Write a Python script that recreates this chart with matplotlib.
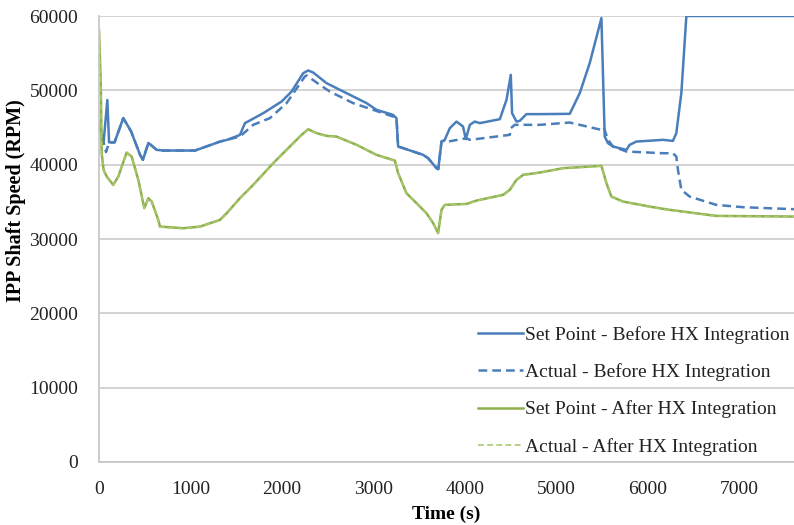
import matplotlib
matplotlib.use("Agg")
import matplotlib.pyplot as plt

# Intermediate-pressure pump shaft speed (RPM) against time (s)
t_before_sp = [0, 50, 91, 110, 170, 265, 350, 450, 480, 540, 630, 700, 1050, 1322, 1400, 1541,
               1596, 1796, 1997, 2106, 2233, 2287, 2342, 2488, 2707, 2926, 3034, 3216, 3253, 3271,
               3327, 3545, 3599, 3691, 3710, 3745, 3781, 3836, 3909, 3981, 4011, 4055, 4109, 4164,
               4383, 4456, 4503, 4517, 4565, 4601, 4674, 4820, 5148, 5257, 5366, 5494, 5530, 5566,
               5621, 5767, 5803, 5876, 6167, 6276, 6313, 6368, 6423, 7600]
v_before_sp = [45600, 43000, 48700, 43000, 43000, 46260, 44500, 41300, 40650, 42930, 42000, 41900,
               41900, 43100, 43340, 44000, 45590, 46930, 48500, 49840, 52310, 52670, 52400, 50970,
               49620, 48280, 47380, 46700, 46250, 42440, 42220, 41320, 40870, 39530, 39400, 43110,
               43340, 44910, 45800, 45130, 43430, 45360, 45800, 45590, 46120, 48720, 52090, 46930,
               45800, 45900, 46800, 46800, 46840, 49620, 53660, 59720, 43780, 42890, 42440, 41990,
               42670, 43110, 43340, 43200, 44240, 49620, 60000, 60000]

t_before_act = [0, 50, 77, 110, 170, 265, 350, 450, 480, 540, 630, 700, 1050, 1322, 1400, 1541,
                1686, 1869, 2051, 2251, 2270, 2415, 2524, 2779, 2998, 3216, 3253, 3271, 3327, 3545,
                3599, 3691, 3710, 3745, 3798, 3817, 4018, 4055, 4492, 4503, 4546, 4820, 5148, 5257,
                5494, 5520, 5566, 5621, 5767, 6167, 6276, 6313, 6331, 6368, 6459, 6750, 7042, 7600]
v_before_act = [45600, 43000, 41700, 43000, 43000, 46260, 44500, 41300, 40650, 42930, 42000, 41900,
                41900, 43100, 43340, 43780, 45360, 46260, 48280, 51860, 52000, 50740, 49840, 48280,
                47380, 46470, 46250, 42440, 42220, 41320, 40870, 39530, 39400, 43110, 43340, 43110,
                43560, 43340, 44010, 44910, 45360, 45360, 45670, 45360, 44680, 45000, 43340, 42440,
                41770, 41540, 41540, 41090, 39300, 36610, 35710, 34590, 34280, 34010]

t_after_sp = [0, 20, 29, 50, 84, 156, 211, 302, 357, 430, 495, 539, 576, 648, 667, 921, 1104, 1322,
              1396, 1541, 1686, 1905, 2087, 2215, 2287, 2379, 2488, 2597, 2816, 3034, 3235, 3253,
              3271, 3362, 3472, 3581, 3654, 3708, 3745, 3781, 4018, 4128, 4419, 4492, 4565, 4638,
              4820, 5075, 5494, 5549, 5603, 5730, 6022, 6240, 6386, 6750, 7600]
v_after_sp = [58140, 50500, 41550, 39300, 38400, 37280, 38400, 41630, 41090, 37950, 34150, 35490,
              35040, 32570, 31670, 31450, 31670, 32570, 33470, 35490, 37280, 40200, 42440, 44010,
              44770, 44240, 43880, 43780, 42670, 41320, 40550, 39740, 38850, 36160, 34820, 33470,
              32130, 30780, 33920, 34590, 34720, 35170, 35940, 36610, 37950, 38630, 38940, 39530,
              39840, 37510, 35710, 35040, 34360, 33920, 33690, 33110, 33020]

t_after_act = [0, 20, 29, 50, 84, 156, 211, 302, 357, 430, 495, 539, 576, 648, 667, 921, 1104, 1322,
               1396, 1541, 1686, 1905, 2087, 2215, 2287, 2379, 2488, 2597, 2816, 3034, 3235, 3253,
               3271, 3362, 3472, 3581, 3654, 3708, 3745, 3781, 4018, 4128, 4419, 4492, 4565, 4638,
               4820, 5075, 5494, 5549, 5603, 5730, 6022, 6240, 6386, 6750, 7600]
v_after_act = [58000, 50400, 41500, 39250, 38350, 37250, 38380, 41600, 41070, 37930, 34130, 35470,
               35020, 32540, 31620, 31400, 31640, 32560, 33450, 35470, 37260, 40180, 42420, 43990,
               44750, 44220, 43860, 43760, 42650, 41300, 40530, 39720, 38830, 36140, 34800, 33450,
               32110, 30760, 33900, 34570, 34700, 35150, 35920, 36590, 37930, 38610, 38920, 39510,
               39820, 37490, 35690, 35000, 34320, 33880, 33650, 33080, 33000]

x_ticks = [0, 1000, 2000, 3000, 4000, 5000, 6000, 7000]
y_ticks = [0, 10000, 20000, 30000, 40000, 50000, 60000]

BLUE = "#4A7EBB"
GREEN = "#8DB04C"
GREEN_LIGHT = "#A9C86E"

plt.rcParams["font.family"] = ["Liberation Serif", "DejaVu Serif"]

fig = plt.figure(figsize=(7.94, 5.25), dpi=100)
ax = fig.add_axes([0.1247, 0.12, 0.8753, 0.8495])

ax.plot(t_before_sp, v_before_sp, color=BLUE, lw=1.8, label="Set Point - Before HX Integration")
ax.plot(t_before_act, v_before_act, color=BLUE, lw=1.8, ls=(0, (3.5, 2)),
        label="Actual - Before HX Integration")
ax.plot(t_after_sp, v_after_sp, color=GREEN, lw=1.8, label="Set Point - After HX Integration")
ax.plot(t_after_act, v_after_act, color=GREEN_LIGHT, lw=1.2, ls=(0, (3.5, 2)),
        label="Actual - After HX Integration")

ax.set_xlim(0, 7600)
ax.set_ylim(0, 60000)
ax.set_xticks(x_ticks)
ax.set_yticks(y_ticks)
ax.tick_params(axis="both", length=0, labelsize=14, colors="#222222")
ax.tick_params(axis="x", pad=14)
ax.tick_params(axis="y", pad=15)
ax.grid(axis="y", color="#D0D0D0", lw=1.3)
ax.set_axisbelow(True)
for side in ("top", "right"):
    ax.spines[side].set_visible(False)
for side in ("left", "bottom"):
    ax.spines[side].set_color("#C8C8C8")
    ax.spines[side].set_linewidth(1.3)

ax.set_xlabel("Time (s)", fontsize=14, fontweight="bold", labelpad=5)
ax.set_ylabel("IPP Shaft Speed (RPM)", fontsize=14.5, fontweight="bold")
ax.yaxis.set_label_coords(-0.105, 0.585)

leg = ax.legend(loc="lower right", bbox_to_anchor=(1.01, -0.012), frameon=False, fontsize=14,
                handlelength=2.3, handletextpad=0.1, labelspacing=1.0, borderaxespad=0.2)
for txt in leg.get_texts():
    txt.set_color("#222222")

fig.savefig("out.png", dpi=100)
